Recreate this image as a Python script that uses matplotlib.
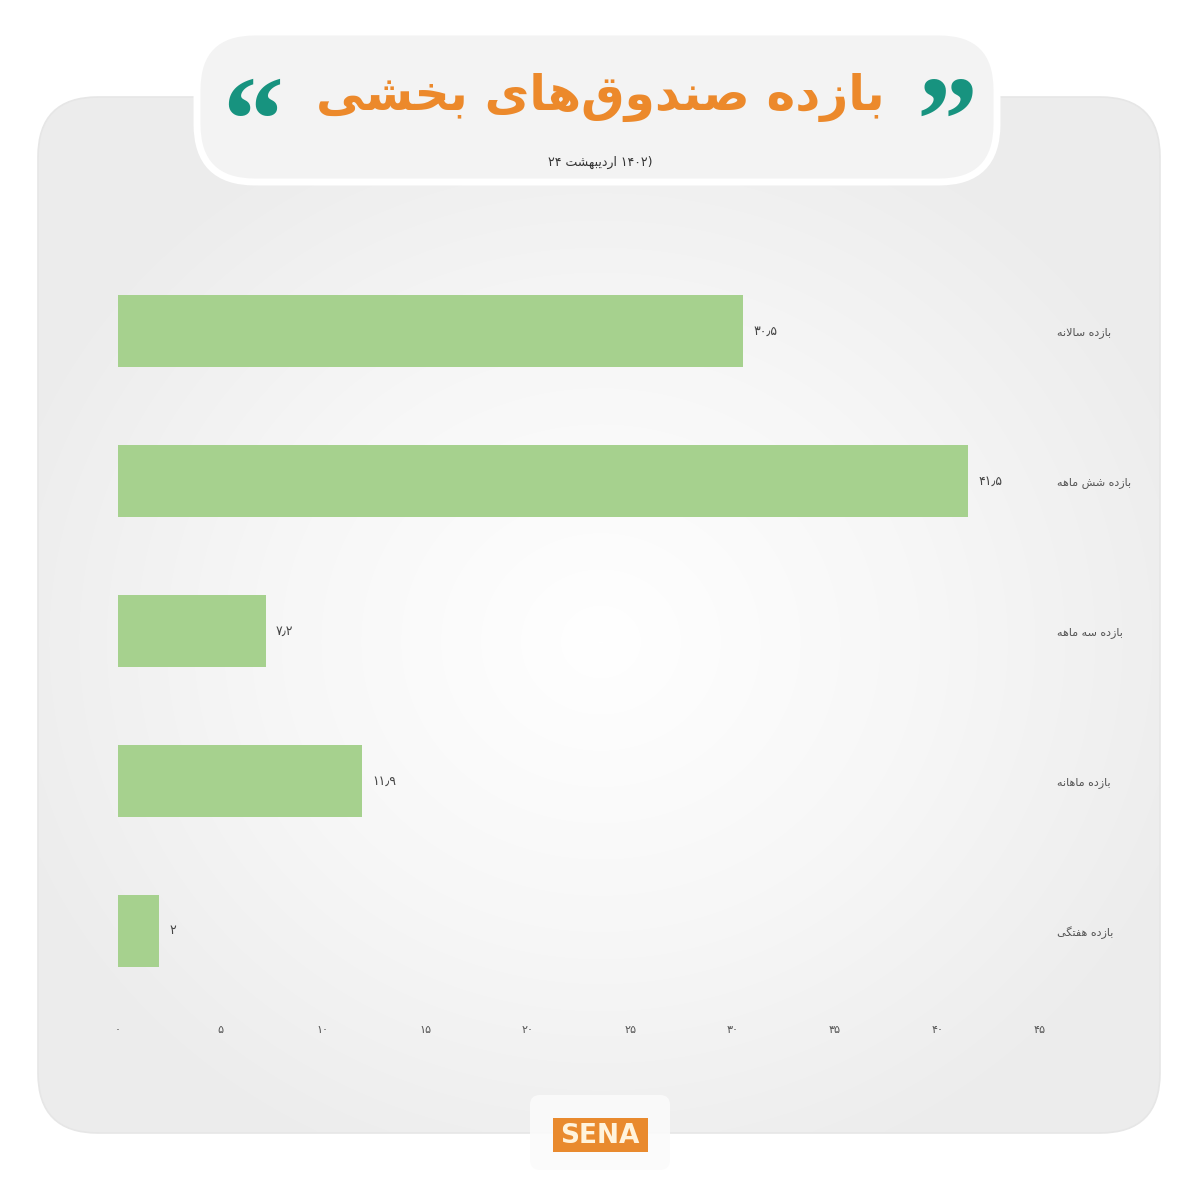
import numpy as np
import matplotlib.pyplot as plt
from matplotlib.patches import FancyBboxPatch, Rectangle
from matplotlib.colors import LinearSegmentedColormap

# Data
categories = ['بازده سالانه', 'بازده شش ماهه', 'بازده سه ماهه', 'بازده ماهانه', 'بازده هفتگی']
values = [30.5, 41.5, 7.2, 11.9, 2]
x_ticks = [0, 5, 10, 15, 20, 25, 30, 35, 40, 45]
title = 'بازده صندوق\u200cهای بخشی'
date_day, date_month, date_year = '۲۴', 'اردیبهشت', '۱۴۰۲'

# Minimal Persian shaping (matplotlib has no bidi / joining)
FORMS = {
    '\u0627': (0xFE8D, 0xFE8E, None, None),
    '\u0628': (0xFE8F, 0xFE90, 0xFE91, 0xFE92),
    '\u062A': (0xFE95, 0xFE96, 0xFE97, 0xFE98),
    '\u062E': (0xFEA5, 0xFEA6, 0xFEA7, 0xFEA8),
    '\u062F': (0xFEA9, 0xFEAA, None, None),
    '\u0631': (0xFEAD, 0xFEAE, None, None),
    '\u0632': (0xFEAF, 0xFEB0, None, None),
    '\u0633': (0xFEB1, 0xFEB2, 0xFEB3, 0xFEB4),
    '\u0634': (0xFEB5, 0xFEB6, 0xFEB7, 0xFEB8),
    '\u0635': (0xFEB9, 0xFEBA, 0xFEBB, 0xFEBC),
    '\u0641': (0xFED1, 0xFED2, 0xFED3, 0xFED4),
    '\u0642': (0xFED5, 0xFED6, 0xFED7, 0xFED8),
    '\u0644': (0xFEDD, 0xFEDE, 0xFEDF, 0xFEE0),
    '\u0645': (0xFEE1, 0xFEE2, 0xFEE3, 0xFEE4),
    '\u0646': (0xFEE5, 0xFEE6, 0xFEE7, 0xFEE8),
    '\u0647': (0xFEE9, 0xFEEA, 0xFEEB, 0xFEEC),
    '\u0648': (0xFEED, 0xFEEE, None, None),
    '\u06CC': (0xFBFC, 0xFBFD, 0xFBFE, 0xFBFF),
    '\u064A': (0xFBFC, 0xFBFD, 0xFBFE, 0xFBFF),
    '\u06AF': (0xFB92, 0xFB93, 0xFB94, 0xFB95),
}


def joins_next(c):
    return c in FORMS and FORMS[c][2] is not None


def shape_word(w):
    out = []
    i = 0
    n = len(w)
    while i < n:
        c = w[i]
        if c not in FORMS:
            if c != '\u200c':
                out.append(c)
            i += 1
            continue
        pj = i > 0 and joins_next(w[i - 1])
        if c == '\u0644' and i + 1 < n and w[i + 1] == '\u0627':
            out.append(chr(0xFEFC if pj else 0xFEFB))
            i += 2
            continue
        nj = i + 1 < n and w[i + 1] in FORMS and joins_next(c)
        f = FORMS[c]
        if pj and nj:
            g = f[3]
        elif pj:
            g = f[1]
        elif nj:
            g = f[2]
        else:
            g = f[0]
        out.append(chr(g))
        i += 1
    return ''.join(reversed(out))


def fa(text):
    return ' '.join(shape_word(w) for w in reversed(text.split(' ')))


def fa_num(s):
    return s.translate(str.maketrans('0123456789.', '۰۱۲۳۴۵۶۷۸۹٫'))


plt.rcParams['font.family'] = ['DejaVu Sans']

fig = plt.figure(figsize=(12, 12), dpi=100)
fig.patch.set_facecolor('white')

# background layer in pixel coords
bg = fig.add_axes([0, 0, 1, 1])
bg.set_xlim(0, 1200)
bg.set_ylim(1200, 0)
bg.axis('off')

panel = FancyBboxPatch((38, 97), 1122, 1036, boxstyle='round,pad=0,rounding_size=60',
                       facecolor='none', edgecolor='#e6e6e6', lw=1.2, zorder=2)
bg.add_patch(panel)
yy, xx = np.mgrid[97:1133:4, 38:1160:4]
r = np.sqrt(((xx - 600) / 640.0) ** 2 + ((yy - 640) / 580.0) ** 2)
panel_cmap = LinearSegmentedColormap.from_list('panel', ['#ffffff', '#f7f7f7', '#ececec'])
im = bg.imshow(np.clip(r, 0, 1), extent=(38, 1160, 1133, 97), cmap=panel_cmap, vmin=0, vmax=1,
               interpolation='bilinear', zorder=1, aspect='auto')
im.set_clip_path(panel)

# title pill
pill = FancyBboxPatch((197, 32), 800, 150, boxstyle='round,pad=0,rounding_size=58',
                      facecolor='#f3f3f3', edgecolor='white', lw=5, zorder=3)
bg.add_patch(pill)
bg.text(600, 97, fa(title), ha='center', va='center', fontsize=35, fontweight='bold',
        color='#ec892b', zorder=4)
bg.text(253, 131, '\u201c', ha='center', va='center', fontsize=88, fontweight='bold',
        family='Liberation Serif', color='#17937f', zorder=4)
bg.text(947, 131, '\u201d', ha='center', va='center', fontsize=88, fontweight='bold',
        family='Liberation Serif', color='#17937f', zorder=4)
bg.text(600, 162, date_day + ' ' + fa(date_month) + ' ' + date_year + ')', ha='center',
        va='center', fontsize=9, color='#333333', zorder=4)

# logo
bg.add_patch(FancyBboxPatch((530, 1095), 140, 75, boxstyle='round,pad=0,rounding_size=10',
                            facecolor='#fbfbfb', edgecolor='none', alpha=0.9, zorder=3))
bg.add_patch(Rectangle((553, 1118), 95, 34, facecolor='#e98a2e', edgecolor='none', zorder=4))
bg.text(600, 1136, 'SENA', ha='center', va='center', fontsize=19, fontweight='bold',
        color='#fff3dc', zorder=5)

# chart
ax = fig.add_axes([118 / 1200, 1 - 1000 / 1200, 922 / 1200, 720 / 1200])
ax.set_facecolor('none')
y = np.arange(len(values))
ax.barh(y, values, height=0.48, color='#a6d18e')
ax.set_xlim(0, 45)
ax.set_ylim(4.46, -0.34)
for s in ax.spines.values():
    s.set_visible(False)

ax.set_xticks(x_ticks, [fa_num(str(t)) for t in x_ticks])
ax.tick_params(axis='x', length=0, pad=18, labelsize=8, labelcolor='#555555')
ax.yaxis.tick_right()
ax.set_yticks(y, [fa(c) for c in categories])
ax.tick_params(axis='y', length=0, pad=12, labelsize=8, labelcolor='#555555')

for i, v in enumerate(values):
    ax.text(v + 0.5, i, fa_num(f'{v:g}'), ha='left', va='center', fontsize=9,
            color='#444444')

fig.savefig('out.png', dpi=100, facecolor='white')
